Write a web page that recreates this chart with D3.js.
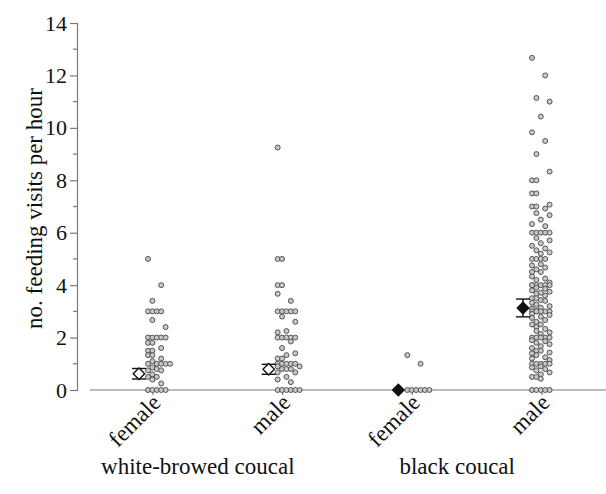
<!DOCTYPE html>
<html><head><meta charset="utf-8">
<script src="https://cdn.jsdelivr.net/npm/d3@7"></script>
<style>body{margin:0;background:#fff}svg{display:block}svg text{font-family:"Liberation Serif",Tinos,"Times New Roman",Times,"Noto Serif","DejaVu Serif",FreeSerif,serif;fill:#111}</style>
</head><body><svg id="c" width="606" height="494"></svg>
<script>
const categories = ["female","male","female","male"];
const species = ["white-browed coucal","black coucal"];
const yTicks = [0,2,4,6,8,10,12,14];
const wbcFemale = [5.0,4.0,3.4,3,3,3,3,2.67,2.4,2,2,2,2,2,1.8,1.8,1.6,1.5,1.5,1.33,1.33,1.2,1,1,1,1,1,1.1,0.86,0.8,0.75,0.75,0.6,0.5,0.5,0.4,0.25,0,0,0,0,0];
const wbcMale = [9.25,5,5,4,4,3.67,3.4,3,3,3,3,3,2.8,2.6,2.25,2.2,2,2,2,2,2,1.85,1.6,1.4,1.33,1.2,1.2,1,1,1,1,1,0.9,0.9,0.8,0.8,0.8,0.67,0.67,0.5,0.4,0.3,0,0,0,0,0,0];
const bcFemale = [1.33,1.0,0,0,0,0,0,0];
const bcMale = [12.67,12.0,11.14,11.0,10.43,9.83,9.5,9.0,8.33,8,8,7.5,7.5,7.07,7,7,6.92,6.75,6.67,6.5,6.33,6.25,
 6,6,6,6,6,5.8,5.71,5.6,5.5,5.4,5.33,5.25,5.2,5,5,5,5,4.8,4.75,4.67,4.6,4.5,4.5,4.33,4.25,4.2,4.1,4,4,4,4,4,4,
 3.9,3.86,3.8,3.75,3.71,3.67,3.6,3.5,3.5,3.43,3.4,3.33,3.25,3.2,3.14,3.1,3,3,3,3,3,3,2.9,2.86,2.8,2.75,2.67,2.6,2.5,2.5,
 2.4,2.33,2.25,2.2,2.14,2,2,2,2,2,1.9,1.86,1.8,1.75,1.67,1.6,1.5,1.5,1.43,1.4,1.33,1.25,1.2,1.14,1,1,1,1,1,
 0.9,0.86,0.8,0.75,0.67,0.6,0.5,0.5,0.43,0,0,0,0,0];
const groupValues = [wbcFemale, wbcMale, bcFemale, bcMale];
const means = [0.62, 0.79, 0.0, 3.13];
const ses = [0.2, 0.19, 0.0, 0.34];
const filled = [false, false, true, true];

const svg = d3.select("#c");
const y = d3.scaleLinear().domain([0,14]).range([390,23]);
const x = d3.scalePoint().domain(d3.range(4)).range([153,542]);
const axisCol = "#7a7a7a";
const FS = 23, FT = 22;

// y axis
const yAxis = d3.axisLeft(y).tickValues(yTicks).tickSize(7).tickPadding(3).tickFormat(d3.format("d"));
const ya = svg.append("g").attr("transform","translate(77,0)").call(yAxis).attr("font-family",null);
ya.select(".domain").attr("stroke",axisCol).attr("stroke-width",1.2);
ya.selectAll(".tick line").attr("stroke",axisCol).attr("stroke-width",1.2);
ya.selectAll(".tick text").attr("font-size",FT).attr("fill","#111");
svg.append("g").selectAll("line").data([1,3,5,7,9,11,13]).join("line")
  .attr("x1",73).attr("x2",77).attr("y1",d=>y(d)).attr("y2",d=>y(d))
  .attr("stroke",axisCol).attr("stroke-width",1.2);
svg.append("text").attr("transform",`translate(42,${(y(0)+y(14))/2+2}) rotate(-90)`)
  .attr("text-anchor","middle").attr("font-size",FS).text("no. feeding visits per hour");

// x axis
svg.append("line").attr("x1",90).attr("x2",606).attr("y1",y(0)).attr("y2",y(0))
  .attr("stroke",axisCol).attr("stroke-width",1.2);
svg.append("g").selectAll("line").data(d3.range(4)).join("line")
  .attr("x1",d=>x(d)).attr("x2",d=>x(d)).attr("y1",y(0)).attr("y2",y(0)+5)
  .attr("stroke",axisCol).attr("stroke-width",1.2);
svg.append("g").selectAll("text").data(categories).join("text")
  .attr("transform",(d,i)=>`translate(${x(i)+9},${y(0)+14}) rotate(-45)`)
  .attr("text-anchor","end").attr("font-size",FS).text(d=>d);
svg.append("g").selectAll("text").data(species).join("text")
  .attr("x",(d,i)=>(x(2*i)+x(2*i+1))/2-20).attr("y",474)
  .attr("text-anchor","middle").attr("font-size",FS).text(d=>d);

// points: deterministic beeswarm packing
const r = 2.5, step = 4.4, minD = 3.8, start = -5;
groupValues.forEach((vals,gi)=>{
  const nSlots = gi===3 ? 5 : 6;
  const cx = x(gi) + (gi===3 ? -5 : 0);
  const placed = [];
  const sorted = vals.slice().sort((a,b)=>b-a);
  sorted.forEach((v,i)=>{
    const py = y(v);
    const k0 = (i*3) % 5;
    const order = [k0].concat(d3.range(nSlots).filter(k=>k!==k0));
    const sameRow = sorted.filter(w=>w===v).length > 1;
    const ord = sameRow ? d3.range(nSlots) : order;
    let best = null, bestOv = Infinity;
    for (const k of ord) {
      const px = cx + start + k*step;
      let ov = 0;
      for (const p of placed) { const dd = Math.hypot(p.x-px,p.y-py); if (dd<minD) ov += (minD-dd); }
      if (ov===0) { best = px; break; }
      if (ov < bestOv) { bestOv = ov; best = px; }
    }
    placed.push({x:best,y:py});
  });
  svg.append("g").selectAll("circle").data(placed).join("circle")
    .attr("cx",d=>d.x).attr("cy",d=>d.y).attr("r",r)
    .attr("fill","#c8c8c8").attr("stroke","#555").attr("stroke-width",1);
});

// means with SE
const mg = svg.append("g");
means.forEach((m,i)=>{
  const mx = x(i) - (i===3 ? 19 : 14);
  if (ses[i] > 0) {
    mg.append("line").attr("x1",mx).attr("x2",mx).attr("y1",y(m-ses[i])).attr("y2",y(m+ses[i])).attr("stroke","#111").attr("stroke-width",1.4);
    [m-ses[i], m+ses[i]].forEach(v=>{
      mg.append("line").attr("x1",mx-7).attr("x2",mx+7).attr("y1",y(v)).attr("y2",y(v)).attr("stroke","#111").attr("stroke-width",1.4);
    });
  }
  mg.append("path").attr("d",d3.symbol(d3.symbolSquare, 66)())
    .attr("transform",`translate(${mx},${y(m)}) rotate(45)`)
    .attr("fill",filled[i] ? "#111" : "#fff").attr("stroke","#111").attr("stroke-width",1.4);
});
</script></body></html>
